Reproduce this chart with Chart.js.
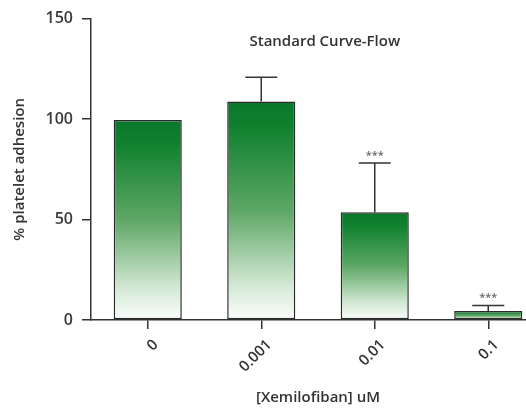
<!DOCTYPE html>
<html>
<head>
<meta charset="utf-8">
<script src="https://cdn.jsdelivr.net/npm/chart.js@4.4.1/dist/chart.umd.min.js"></script>
<style>
  html, body { margin: 0; padding: 0; background: #fff; overflow: hidden; }
  #wrap { width: 526px; height: 414px; overflow: hidden; }
</style>
</head>
<body>
<div id="wrap"><canvas id="c" width="546" height="414"></canvas></div>
<script>
  // concentrations of Xemilofiban (uM)
  const doses = ["0", "0.001", "0.01", "0.1"];
  // mean % platelet adhesion and upper error (SD)
  const adhesion = [99.5, 108.8, 53.6, 4.5];
  const adhesionErr = [0, 12, 24.5, 2.7];
  const signif = ["", "", "***", "***"];
  const yTicks = [0, 50, 100, 150];

  const ink = "#333333";
  const font = "'Open Sans', sans-serif";

  function barFill(ctx) {
    const chart = ctx.chart;
    const y = chart.scales.y;
    if (!chart.chartArea || !y) return "#2e8b40";
    const top = y.getPixelForValue(ctx.raw);
    const bot = y.getPixelForValue(0);
    const g = chart.ctx.createLinearGradient(0, top, 0, bot);
    g.addColorStop(0, "#0a772a");
    g.addColorStop(0.12, "#10812f");
    g.addColorStop(0.5, "#5ea766");
    g.addColorStop(0.85, "#d6ead7");
    g.addColorStop(1, "#fbfdfb");
    return g;
  }

  const errorBars = {
    id: "errorBars",
    afterDatasetsDraw(chart) {
      const { ctx, scales } = chart;
      const meta = chart.getDatasetMeta(0);
      ctx.save();
      ctx.strokeStyle = ink;
      ctx.lineWidth = 1.5;
      meta.data.forEach((bar, i) => {
        const e = adhesionErr[i];
        const x = bar.x;
        const yTop = scales.y.getPixelForValue(adhesion[i] + e);
        if (e > 0) {
          const yBar = scales.y.getPixelForValue(adhesion[i]);
          ctx.beginPath();
          ctx.moveTo(x, yBar);
          ctx.lineTo(x, yTop);
          ctx.moveTo(x - 16, yTop);
          ctx.lineTo(x + 16, yTop);
          ctx.stroke();
        }
        if (signif[i]) {
          ctx.fillStyle = "#666";
          ctx.font = "600 11px " + font;
          ctx.textAlign = "center";
          ctx.textBaseline = "bottom";
          ctx.fillText(signif[i], x, yTop - 2);
        }
      });
      ctx.restore();
    },
  };

  const innerTitle = {
    id: "innerTitle",
    afterDraw(chart) {
      const { ctx, chartArea } = chart;
      ctx.save();
      ctx.fillStyle = "#333";
      ctx.font = "600 15px " + font;
      ctx.textAlign = "center";
      ctx.textBaseline = "middle";
      ctx.fillText("Standard Curve-Flow", chartArea.left + (chartArea.right - chartArea.left) * 0.515, 42);
      ctx.restore();
    },
  };

  new Chart(document.getElementById("c").getContext("2d"), {
    type: "bar",
    data: {
      labels: doses,
      datasets: [
        {
          data: adhesion,
          backgroundColor: barFill,
          borderColor: "#2b2b2b",
          borderWidth: 1.5,
          borderSkipped: false,
          barPercentage: 0.6,
          categoryPercentage: 1,
        },
      ],
    },
    options: {
      responsive: false,
      animation: false,
      devicePixelRatio: 1,
      layout: { padding: { top: 18, right: 1, left: 0, bottom: 0 } },
      plugins: { legend: { display: false }, tooltip: { enabled: false } },
      scales: {
        x: {
          afterFit: (s) => { s.height = 94; },
          grid: { display: true, drawOnChartArea: false, offset: false, tickLength: 9, color: ink, lineWidth: 1.5 },
          border: { color: ink, width: 1.5 },
          ticks: { color: "#333", font: { family: font, size: 15, weight: "600" }, minRotation: 45, maxRotation: 45, padding: 7, labelOffset: 8 },
          title: { display: true, text: "[Xemilofiban] uM", color: "#333", font: { family: font, size: 15, weight: "600" }, padding: { bottom: 7, top: 0 } },
        },
        y: {
          min: 0,
          max: 150,
          afterFit: (s) => { s.width = 91; },
          afterBuildTicks: (s) => { s.ticks = yTicks.map((v) => ({ value: v })); },
          grid: { display: true, drawOnChartArea: false, tickLength: 9, color: ink, lineWidth: 1.5 },
          border: { color: ink, width: 1.5 },
          ticks: { color: "#3a3a3a", font: { family: font, size: 16, weight: "600" }, padding: 9 },
          title: { display: true, text: "% platelet adhesion", color: "#333", font: { family: font, size: 15, weight: "600" }, padding: { top: 11, bottom: 0 } },
        },
      },
    },
    plugins: [errorBars, innerTitle],
  });
</script>
</body>
</html>
